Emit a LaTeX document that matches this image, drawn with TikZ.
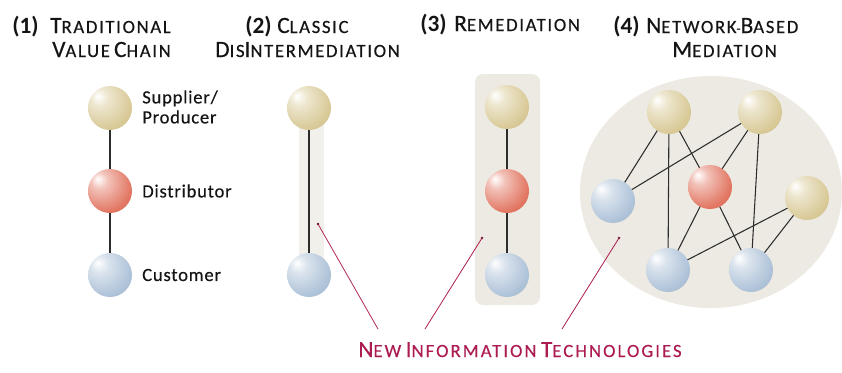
\documentclass[tikz,border=0pt]{standalone}
\usepackage{fontspec}
\setmainfont{Carlito}
\usetikzlibrary{backgrounds}
\definecolor{supc}{RGB}{216,201,150}
\definecolor{disc}{RGB}{226,118,98}
\definecolor{cusc}{RGB}{174,194,216}
\definecolor{nitc}{RGB}{172,28,82}
\definecolor{panelc}{RGB}{236,234,226}
\definecolor{edgec}{RGB}{45,45,45}
\definecolor{titlec}{RGB}{20,20,20}
\pgfdeclareradialshading{supball}{\pgfpoint{-14bp}{14bp}}{color(0bp)=(white); color(10bp)=(supc!45!white); color(32bp)=(supc); color(55bp)=(supc!85!black); color(75bp)=(supc!75!black)}
\pgfdeclareradialshading{disball}{\pgfpoint{-14bp}{14bp}}{color(0bp)=(white); color(10bp)=(disc!45!white); color(32bp)=(disc); color(55bp)=(disc!85!black); color(75bp)=(disc!75!black)}
\pgfdeclareradialshading{cusball}{\pgfpoint{-14bp}{14bp}}{color(0bp)=(white); color(10bp)=(cusc!45!white); color(32bp)=(cusc); color(55bp)=(cusc!85!black); color(75bp)=(cusc!75!black)}
\pgfdeclarelayer{back}
\pgfdeclarelayer{edges}
\pgfsetlayers{back,edges,main}
\newcommand\bigsc[2]{{\fontsize{17.5}{17.5}\selectfont #1}{\fontsize{14}{14}\selectfont #2}}
\newcommand\nitsc[2]{{\fontsize{17.5}{17.5}\selectfont #1}{\fontsize{14}{14}\selectfont #2}}
\begin{document}
\begin{tikzpicture}[x=0.75pt,y=-0.75pt,
  ballnode/.style={circle,minimum size=33pt,inner sep=0pt},
  sup/.style={ballnode,shading=supball},
  dis/.style={ballnode,shading=disball},
  cus/.style={ballnode,shading=cusball},
  title/.style={anchor=base west,inner sep=0pt,text=titlec,font=\addfontfeatures{LetterSpace=9,FakeBold=0.5}},
  num/.style={anchor=base west,inner sep=0pt,text=titlec,font=\fontsize{17.5}{17.5}\selectfont\bfseries},
  lab/.style={anchor=west,inner sep=0pt,text=titlec,font=\fontsize{14}{15}\selectfont\addfontfeatures{LetterSpace=4,FakeBold=0.3},align=left},
  link/.style={draw=edgec,line width=0.8pt},
  pointer/.style={draw=nitc,line width=0.6pt},
  dot/.style={circle,fill=nitc!60!black,inner sep=0pt,minimum size=2.2pt}
]
\useasboundingbox (0,0) rectangle (842,372);
% titles
\node[num] (n1) at (12,33) {(1)};
\node[title] (t1a) at (50,33) {\bigsc{T}{RADITIONAL}};
\node[title] (t1b) at (52,57) {\bigsc{V}{ALUE} \bigsc{C}{HAIN}};
\node[num] (n2) at (245,33) {(2)};
\node[title] (t2a) at (277,33) {\bigsc{C}{LASSIC}};
\node[title] (t2b) at (215,57) {\bigsc{D}{IS}\bigsc{I}{NTERMEDIATION}};
\node[num] (n3) at (420,31) {(3)};
\node[title] (t3a) at (454,31) {\bigsc{R}{EMEDIATION}};
\node[num] (n4) at (613,33) {(4)};
\node[title] (t4a) at (646,33) {\bigsc{N}{ETWORK}-\bigsc{B}{ASED}};
\node[title] (t4b) at (672,57) {\bigsc{M}{EDIATION}};
% panel 1
\node[sup] (a1) at (110,108) {};
\node[dis] (a2) at (110,191) {};
\node[cus] (a3) at (110,275) {};
\node[lab] (l1) at (142,107) {Supplier/\\Producer};
\node[lab] (l2) at (142,191) {Distributor};
\node[lab] (l3) at (142,275) {Customer};
\begin{pgfonlayer}{edges}
\draw[link] (a1.center) -- (a2.center);
\draw[link] (a2.center) -- (a3.center);
\end{pgfonlayer}
% panel 2
\node[sup] (b1) at (309,108) {};
\node[cus] (b3) at (309,275) {};
\begin{pgfonlayer}{back}
\fill[panelc!70!white] (299,105) rectangle (324,282);
\end{pgfonlayer}
\begin{pgfonlayer}{edges}
\draw[link] (b1.center) -- (b3.center);
\end{pgfonlayer}
% panel 3
\node[sup] (c1) at (507,107) {};
\node[dis] (c2) at (507,191) {};
\node[cus] (c3) at (507,275) {};
\begin{pgfonlayer}{back}
\fill[panelc,rounded corners=6pt] (475,74) rectangle (540,305);
\end{pgfonlayer}
\begin{pgfonlayer}{edges}
\draw[link] (c1.center) -- (c2.center);
\draw[link] (c2.center) -- (c3.center);
\end{pgfonlayer}
% panel 4
\begin{pgfonlayer}{back}
\fill[panelc] (711,192) ellipse [x radius=131,y radius=116];
\end{pgfonlayer}
\node[sup] (s1) at (669,112) {};
\node[sup] (s2) at (760,112) {};
\node[sup] (s3) at (807,198) {};
\node[dis] (dd) at (710,187) {};
\node[cus] (k1) at (613,201) {};
\node[cus] (k2) at (668,270) {};
\node[cus] (k3) at (751,270) {};
\begin{pgfonlayer}{edges}
\draw[link] (s1.center) -- (k1.center);
\draw[link] (s1.center) -- (k2.center);
\draw[link] (s1.center) -- (dd.center);
\draw[link] (s2.center) -- (k1.center);
\draw[link] (s2.center) -- (dd.center);
\draw[link] (s2.center) -- (k3.center);
\draw[link] (dd.center) -- (k2.center);
\draw[link] (dd.center) -- (k3.center);
\draw[link] (s3.center) -- (k2.center);
\draw[link] (s3.center) -- (k3.center);
\end{pgfonlayer}
% new information technologies
\node[anchor=base,inner sep=0pt,text=nitc,font=\addfontfeatures{LetterSpace=11,FakeBold=0.3}] (nit) at (520,357) {\nitsc{N}{EW} \nitsc{I}{NFORMATION} \nitsc{T}{ECHNOLOGIES}};
\coordinate (e2) at (378,329);
\coordinate (e3) at (425,329);
\coordinate (e4) at (562,329);
\node[dot] (d2) at (318,224) {};
\node[dot] (d3) at (482,238) {};
\node[dot] (d4) at (619,238) {};
\draw[pointer] (d2.center) -- (e2);
\draw[pointer] (d3.center) -- (e3);
\draw[pointer] (d4.center) -- (e4);
\end{tikzpicture}
\end{document}
